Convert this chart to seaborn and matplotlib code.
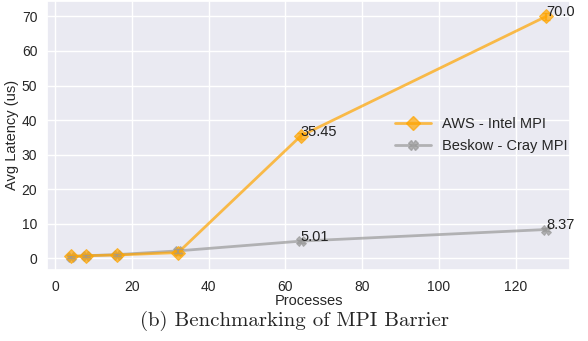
import matplotlib
matplotlib.use("Agg")
import matplotlib.pyplot as plt
import seaborn as sns
import pandas as pd
from matplotlib.lines import Line2D

processes = [4, 8, 16, 32, 64, 128]
aws_latency = [0.6, 0.8, 1.0, 1.7, 35.45, 70.0]
aws_err = [0.3, 0.3, 0.3, 0.6, 0.8, 1.0]
beskow_latency = [0.5, 0.8, 1.1, 2.2, 5.01, 8.37]
beskow_err = [0.3, 0.3, 0.3, 0.5, 0.4, 0.4]
series_names = ["AWS - Intel MPI", "Beskow - Cray MPI"]
annotated = {"AWS - Intel MPI": [(64, 35.45, "35.45"), (128, 70.0, "70.0")],
             "Beskow - Cray MPI": [(64, 5.01, "5.01"), (128, 8.37, "8.37")]}

sns.set_theme(style="darkgrid")
plt.rcParams["font.family"] = ["Liberation Sans", "DejaVu Sans"]

fig = plt.figure(figsize=(5.88, 3.41), dpi=100)
ax = fig.add_axes([47/588, 1-270/341, 523/588, 270/341 - 0.002])

df = pd.concat([
    pd.DataFrame({"Processes": processes, "Latency": aws_latency, "Series": series_names[0]}),
    pd.DataFrame({"Processes": processes, "Latency": beskow_latency, "Series": series_names[1]}),
])

colors = {series_names[0]: "#FFA500", series_names[1]: "#999999"}
markers = {series_names[0]: "D", series_names[1]: "X"}
errs = {series_names[0]: aws_err, series_names[1]: beskow_err}
for name in [series_names[1], series_names[0]]:
    sub = df[df["Series"] == name]
    sns.lineplot(data=sub, x="Processes", y="Latency", color=colors[name],
                 marker=markers[name], markersize=7, linewidth=2, alpha=0.7,
                 markeredgecolor=colors[name], legend=False, ax=ax)
for name in series_names:
    sub = df[df["Series"] == name]
    ax.errorbar(sub["Processes"], sub["Latency"], yerr=errs[name], fmt="none",
                ecolor=colors[name], alpha=0.7, capsize=3, elinewidth=1.5)

for name in series_names:
    for x, y, t in annotated[name]:
        ax.annotate(t, (x, y), xytext=(0, 3), textcoords="offset points",
                    fontsize=10.5, color="#222222", ha="left", va="center")

h1 = Line2D([], [], color=colors[series_names[0]], marker="D", markersize=7, linewidth=2, alpha=0.7)
h2 = Line2D([], [], color=colors[series_names[1]], marker="X", markersize=7, linewidth=2, alpha=0.7)
ax.legend([h1, h2], series_names, loc="upper left", bbox_to_anchor=(0.64, 0.615),
          frameon=False, fontsize=10.5, handlelength=2.5, handletextpad=0.7)

ax.set_xlabel("Processes", fontsize=10.5, labelpad=0)
ax.set_ylabel("Avg Latency (us)", fontsize=10.5, labelpad=2)
ax.tick_params(labelsize=10, pad=1)
ax.set_xticks([0, 20, 40, 60, 80, 100, 120])
ax.set_yticks([0, 10, 20, 30, 40, 50, 60, 70])

fig.text(0.5, 1-321/341, "(b) Benchmarking of MPI Barrier", ha="center", va="center",
         fontsize=15, family=["cmr10", "DejaVu Serif"])

fig.savefig("out.png", dpi=100)
